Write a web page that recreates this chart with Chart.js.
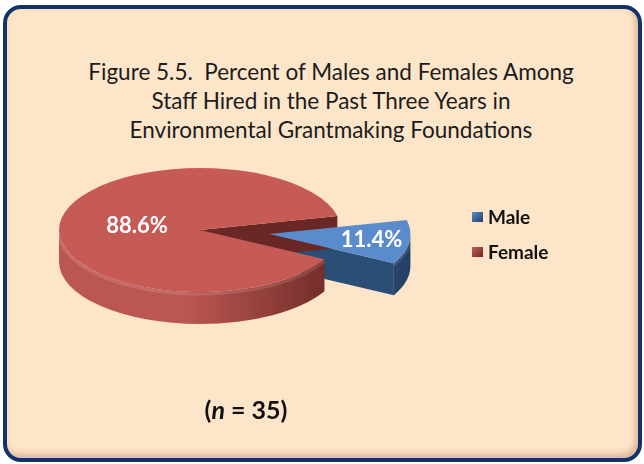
<!DOCTYPE html>
<html>
<head>
<meta charset="utf-8">
<script src="https://cdn.jsdelivr.net/npm/chart.js@4/dist/chart.umd.min.js"></script>
<style>
  html, body { margin: 0; padding: 0; background: #fff; }
  #wrap { position: relative; width: 644px; height: 464px; overflow: hidden; font-family: Lato, "Open Sans", sans-serif; }
  #frame {
    position: absolute; left: 3px; top: 5px; width: 631px; height: 449px;
    border: 4px solid #12326a; border-radius: 18px; background: #fde5c9;
    box-shadow: inset -3px -4px 6px rgba(150, 100, 55, 0.35);
  }
  #title {
    position: absolute; left: 0; top: 57px; width: 662px; text-align: center;
    font-size: 22.5px; line-height: 29px; color: #1c1c1c;
  }
  #box { position: absolute; left: 0; top: 0; width: 644px; height: 464px; }
  #legend { position: absolute; left: 472px; top: 205px; font-weight: bold; font-size: 19px; color: #111; }
  #legend div { height: 35px; display: flex; align-items: flex-start; }
  #legend span.key { width: 11px; height: 10px; margin: 7px 5px 0 0; display: inline-block; }
  #note { position: absolute; left: 0; width: 492px; top: 394px; text-align: center; font-weight: bold; font-size: 25px; color: #111; }
</style>
</head>
<body>
<div id="wrap">
  <div id="frame"></div>
  <div id="title">Figure 5.5.&nbsp; Percent of Males and Females Among<br>Staff Hired in the Past Three Years in<br>Environmental Grantmaking Foundations</div>
  <div id="box"><canvas id="pie"></canvas></div>
  <div id="legend"></div>
  <div id="note">(<i>n</i> = 35)</div>
</div>
<script>
const genders = ["Male", "Female"];
const percents = [11.4, 88.6];
const explode = [70, 0];

// top face, wall gradient (light -> dark) and cut face colours per slice
const topColors = ["#5a8ccd", "#c65b56"];
const wallColors = [["#426d9f", "#243f64"], ["#bb5752", "#6c2926"]];
const faceColors = ["#2b4e77", "#6a2725"];

// fake 3D: squash the pie vertically and extrude it downwards
const pie3d = {
  id: "pie3d",
  beforeDatasetsDraw(chart, args, opts) {
    const ctx = chart.ctx;
    const k = opts.tilt, d = opts.depth;
    const values = chart.data.datasets[0].data;
    const slices = chart.getDatasetMeta(0).data.map((arc, i) => {
      const p = arc.getProps(["x", "y", "startAngle", "endAngle", "outerRadius"]);
      const mid = (p.startAngle + p.endAngle) / 2;
      const off = arc.options.offset || 0;
      return {
        i, mid, r: p.outerRadius, a1: p.startAngle, a2: p.endAngle,
        cx: p.x + Math.cos(mid) * off,
        cy: p.y + Math.sin(mid) * off * k
      };
    });
    const pt = (s, a, z) => [s.cx + s.r * Math.cos(a), s.cy + s.r * Math.sin(a) * k + z];

    ctx.save();
    // side walls
    slices.forEach(s => {
      // cut faces that look towards the viewer
      [[s.a1, -Math.cos(s.a1) > 0], [s.a2, Math.cos(s.a2) > 0]].forEach(([a, vis]) => {
        if (!vis) return;
        const top = pt(s, a, 0), bot = pt(s, a, d);
        ctx.beginPath();
        ctx.moveTo(s.cx, s.cy);
        ctx.lineTo(top[0], top[1]);
        ctx.lineTo(bot[0], bot[1]);
        ctx.lineTo(s.cx, s.cy + d);
        ctx.closePath();
        ctx.fillStyle = faceColors[s.i];
        ctx.fill();
      });
      // front part of the rim
      for (let base = -2 * Math.PI; base <= 2 * Math.PI; base += 2 * Math.PI) {
        const b1 = Math.max(s.a1, base), b2 = Math.min(s.a2, base + Math.PI);
        if (b2 <= b1) continue;
        const g = ctx.createLinearGradient(s.cx - s.r, 0, s.cx + s.r, 0);
        g.addColorStop(0, wallColors[s.i][0]);
        g.addColorStop(0.45, wallColors[s.i][0]);
        g.addColorStop(1, wallColors[s.i][1]);
        const e = pt(s, b2, d);
        ctx.beginPath();
        ctx.ellipse(s.cx, s.cy, s.r, s.r * k, 0, b1, b2);
        ctx.lineTo(e[0], e[1]);
        ctx.ellipse(s.cx, s.cy + d, s.r, s.r * k, 0, b2, b1, true);
        ctx.closePath();
        ctx.fillStyle = g;
        ctx.fill();
        // soft bevel just under the top edge
        ctx.beginPath();
        ctx.ellipse(s.cx, s.cy + 2, s.r, s.r * k, 0, b1, b2);
        ctx.strokeStyle = "rgba(255, 255, 255, 0.12)";
        ctx.lineWidth = 3;
        ctx.stroke();
      }
    });
    // top faces
    slices.forEach(s => {
      ctx.beginPath();
      ctx.moveTo(s.cx, s.cy);
      ctx.ellipse(s.cx, s.cy, s.r, s.r * k, 0, s.a1, s.a2);
      ctx.closePath();
      ctx.fillStyle = topColors[s.i];
      ctx.fill();
    });
    // value labels
    ctx.font = "bold 22px Lato, 'Open Sans', sans-serif";
    ctx.fillStyle = "#fff";
    ctx.textAlign = "center";
    ctx.textBaseline = "middle";
    slices.forEach(s => {
      const f = opts.labelAt[s.i] * s.r;
      ctx.fillText(values[s.i].toFixed(1) + "%",
        s.cx + Math.cos(s.mid) * f, s.cy + Math.sin(s.mid) * f * k);
    });
    ctx.restore();
    return false;
  }
};

const chart = new Chart(document.getElementById("pie"), {
  type: "pie",
  data: {
    labels: genders,
    datasets: [{
      data: percents,
      backgroundColor: topColors,
      offset: explode,
      hoverOffset: 0,
      borderWidth: 0
    }]
  },
  options: {
    responsive: true,
    maintainAspectRatio: false,
    animation: false,
    events: [],
    rotation: 77,
    radius: 141,
    layout: { padding: { left: 0, right: 244, top: 0, bottom: 4 } },
    plugins: {
      legend: { display: false },
      tooltip: { enabled: false },
      pie3d: { tilt: 0.44, depth: 32, labelAt: [0.73, 0.45] }
    }
  },
  plugins: [pie3d]
});

// legend built from the chart's own labels and colours
const legend = document.getElementById("legend");
chart.data.labels.forEach((name, i) => {
  const row = document.createElement("div");
  const key = document.createElement("span");
  key.className = "key";
  key.style.background = "linear-gradient(135deg, " + topColors[i] + ", " + wallColors[i][1] + ")";
  row.appendChild(key);
  row.appendChild(document.createTextNode(name));
  legend.appendChild(row);
});
</script>
</body>
</html>
